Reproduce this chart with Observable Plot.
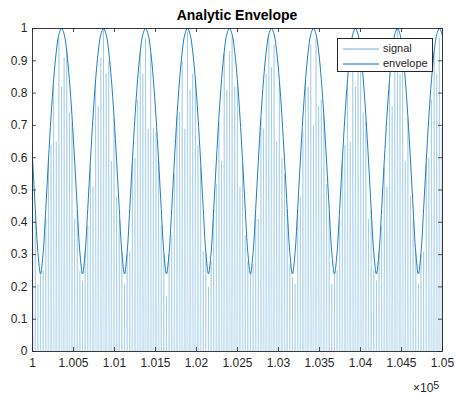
<!DOCTYPE html>
<html><head><meta charset="utf-8">
<script src="https://cdn.jsdelivr.net/npm/d3@7"></script>
<script src="https://cdn.jsdelivr.net/npm/@observablehq/plot@0.6"></script>
<style>
body{margin:0;background:#fff;}
#wrap{position:relative;width:455px;height:394px;font-family:"Liberation Sans",Arial,sans-serif;color:#262626;overflow:hidden;}
#title{position:absolute;left:32px;width:410px;top:7px;line-height:16px;text-align:center;font-weight:bold;font-size:14px;color:#000;}
#exp{position:absolute;left:413px;top:381px;font-size:12px;line-height:14px;}
#exp sup{font-size:10.5px;position:relative;top:-3px;vertical-align:top;}
#legend{position:absolute;left:337px;top:38px;width:94px;height:32px;border:1px solid #262626;background:#fff;font-size:11px;}
#legend svg{position:absolute;left:0;top:0;}
.lt{position:absolute;left:45px;line-height:13px;}
</style></head><body>
<div id="wrap"><div id="chart"></div>
<div id="title">Analytic Envelope</div>
<div id="exp">×10<sup>5</sup></div>
<div id="legend">
<svg width="94" height="32"><line x1="5" x2="41" y1="10" y2="10" stroke="#0072BD" stroke-opacity="0.55" stroke-width="1"/><line x1="5" x2="41" y1="25" y2="25" stroke="#0072BD" stroke-width="1"/></svg>
<div class="lt" style="top:3px">signal</div><div class="lt" style="top:18px">envelope</div>
</div>
</div>
<script>
// sample grid (x units)
const gridStart = 99970;
const gridStep = 32;

// envelope values
const envelope = [
.727,.590,.442,.306,.240,.306,.442,.590,.727,.842,.928,.982,1.0,.982,.928,.842,
.727,.590,.442,.306,.240,.306,.442,.590,.727,.842,.928,.982,1.0,.982,.928,.842,
.727,.590,.442,.306,.240,.306,.442,.590,.727,.842,.928,.982,1.0,.982,.928,.842,
.727,.590,.442,.306,.240,.306,.442,.590,.727,.842,.928,.982,1.0,.982,.928,.842,
.727,.590,.442,.306,.240,.306,.442,.590,.727,.842,.928,.982,1.0,.982,.928,.842,
.727,.590,.442,.306,.240,.306,.442,.590,.727,.842,.928,.982,1.0,.982,.928,.842,
.727,.590,.442,.306,.240,.306,.442,.590,.727,.842,.928,.982,1.0,.982,.928,.842,
.727,.590,.442,.306,.240,.306,.442,.590,.727,.842,.928,.982,1.0,.982,.928,.842,
.727,.590,.442,.306,.240,.306,.442,.590,.727,.842,.928,.982,1.0,.982,.928,.842,
.727,.590,.442,.306,.240,.306,.442,.590,.727,.842,.928,.982,1.0,.982,.928
];

// signal oscillation peaks (tops of the light spikes) and trough level
const signalPeaks = [
.73,.52,.43,.21,.24,.25,.41,.59,.64,.82,.65,.97,.82,.91,.93,.74,
.71,.41,.44,.25,.22,.31,.39,.57,.51,.83,.76,.91,1.0,.86,.90,.59,
.72,.48,.41,.31,.21,.30,.31,.58,.60,.78,.93,.86,.97,.69,.92,.69,
.68,.59,.39,.30,.17,.30,.36,.55,.73,.74,.90,.69,.99,.81,.86,.84,
.64,.57,.31,.30,.20,.28,.44,.52,.71,.59,.92,.81,.93,.98,.82,.82,
.51,.58,.36,.28,.24,.27,.43,.41,.72,.69,.86,.98,.88,.95,.65,.83,
.60,.55,.44,.27,.23,.21,.44,.48,.68,.84,.82,.95,.70,.97,.76,.78,
.73,.52,.43,.21,.24,.25,.41,.59,.64,.82,.65,.97,.82,.91,.93,.74,
.71,.41,.44,.25,.22,.31,.39,.57,.51,.83,.76,.91,1.0,.86,.90,.59,
.72,.48,.41,.31,.21,.30,.31,.58,.60,.78,.93,.86,.97,.69,.92
];
const signalTrough = -1;

const xTicks = [100000,100500,101000,101500,102000,102500,103000,103500,104000,104500,105000];
const xTickLabels = ["1","1.005","1.01","1.015","1.02","1.025","1.03","1.035","1.04","1.045","1.05"];
const yTicks = [0,0.1,0.2,0.3,0.4,0.5,0.6,0.7,0.8,0.9,1];
const yTickLabels = ["0","0.1","0.2","0.3","0.4","0.5","0.6","0.7","0.8","0.9","1"];

const envData = envelope.map((v, i) => ({x: gridStart + i * gridStep, y: v}));
const sigData = [];
signalPeaks.forEach((v, i) => {
  const xc = gridStart + i * gridStep;
  sigData.push({x: xc - gridStep / 2, y: signalTrough});
  sigData.push({x: xc, y: v});
});
sigData.push({x: gridStart + signalPeaks.length * gridStep - gridStep / 2, y: signalTrough});

const W = 455, H = 394, mL = 32, mR = 13, mT = 28, mB = 43;
const pw = W - mL - mR, ph = H - mT - mB, tk = 4;
const ink = "#262626";

const chart = Plot.plot({
  width: W, height: H,
  marginLeft: mL, marginRight: mR, marginTop: mT, marginBottom: mB,
  x: {domain: [100000, 105000], label: null},
  y: {domain: [0, 1], label: null},
  style: {fontFamily: "'Liberation Sans', Arial, sans-serif", fontSize: "12px", color: ink, background: "transparent"},
  marks: [
    Plot.line(sigData, {x: "x", y: "y", stroke: "#0072BD", strokeOpacity: 0.38, strokeWidth: 0.55, clip: true}),
    Plot.line(envData, {x: "x", y: "y", curve: "catmull-rom", stroke: "#0072BD", strokeWidth: 0.9, clip: true}),
    Plot.ruleX(xTicks, {insetTop: ph - tk, stroke: ink, strokeWidth: 0.8}),
    Plot.ruleX(xTicks, {insetBottom: ph - tk, stroke: ink, strokeWidth: 0.8}),
    Plot.ruleY(yTicks, {insetRight: pw - tk, stroke: ink, strokeWidth: 0.8}),
    Plot.ruleY(yTicks, {insetLeft: pw - tk, stroke: ink, strokeWidth: 0.8}),
    Plot.frame({stroke: ink, strokeWidth: 0.9}),
    Plot.axisX({ticks: xTicks, tickSize: 0, tickPadding: 7, label: null, fill: ink,
      tickFormat: d => xTickLabels[xTicks.indexOf(d)]}),
    Plot.axisY({ticks: yTicks, tickSize: 0, tickPadding: 5, label: null, fill: ink,
      tickFormat: d => yTickLabels[yTicks.indexOf(d)]})
  ]
});
document.getElementById("chart").appendChild(chart);
</script>
</body></html>
